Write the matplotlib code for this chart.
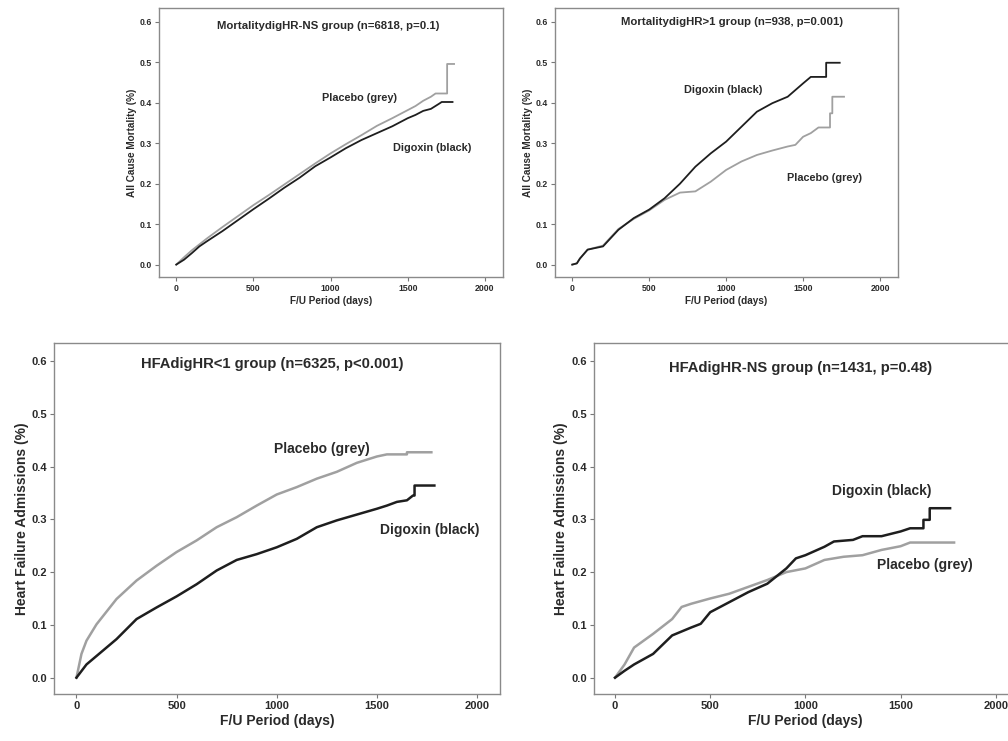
import numpy as np
import matplotlib
matplotlib.use("Agg")
import matplotlib.pyplot as plt

plt.rcParams["font.family"] = ["Liberation Sans", "DejaVu Sans"]
plt.rcParams["font.weight"] = "bold"
plt.rcParams["axes.labelweight"] = "bold"

# --- panel 1: mortality, HR-NS group ---
mort_ns_pla_t = [0, 50, 100, 150, 200, 300, 400, 500, 600, 700, 800, 900, 1000, 1100, 1200,
                 1300, 1400, 1500, 1550, 1600, 1650, 1680, 1755, 1755, 1800]
mort_ns_pla_y = [0, 0.018, 0.035, 0.05, 0.065, 0.093, 0.12, 0.147, 0.172, 0.198, 0.224, 0.25,
                 0.275, 0.298, 0.32, 0.343, 0.362, 0.382, 0.392, 0.405, 0.415, 0.423, 0.423,
                 0.496, 0.496]
mort_ns_dig_t = [0, 50, 100, 150, 200, 300, 400, 500, 600, 700, 800, 900, 1000, 1100, 1200,
                 1300, 1400, 1500, 1550, 1600, 1650, 1700, 1720, 1790]
mort_ns_dig_y = [0, 0.012, 0.028, 0.045, 0.058, 0.083, 0.11, 0.137, 0.163, 0.19, 0.215, 0.243,
                 0.265, 0.288, 0.308, 0.325, 0.342, 0.362, 0.37, 0.38, 0.385, 0.397, 0.402, 0.402]

# --- panel 2: mortality, HR>1 group ---
mort_hr1_dig_t = [0, 30, 50, 100, 200, 300, 400, 500, 600, 700, 800, 900, 1000, 1100, 1200,
                  1300, 1400, 1500, 1550, 1650, 1650, 1738]
mort_hr1_dig_y = [0, 0.003, 0.015, 0.037, 0.045, 0.086, 0.115, 0.136, 0.164, 0.2, 0.242, 0.275,
                  0.304, 0.341, 0.378, 0.399, 0.415, 0.448, 0.464, 0.464, 0.499, 0.499]
mort_hr1_pla_t = [0, 30, 50, 100, 200, 300, 400, 500, 600, 700, 800, 900, 1000, 1100, 1200,
                  1300, 1400, 1450, 1500, 1550, 1600, 1675, 1675, 1690, 1690, 1766]
mort_hr1_pla_y = [0, 0.003, 0.015, 0.037, 0.047, 0.088, 0.113, 0.134, 0.16, 0.178, 0.181, 0.205,
                  0.234, 0.255, 0.271, 0.282, 0.292, 0.296, 0.316, 0.325, 0.339, 0.339, 0.374,
                  0.374, 0.415, 0.415]

# --- panel 3: HF admissions, HR<1 group ---
hfa_hr1_pla_t = [0, 25, 50, 100, 200, 300, 400, 500, 600, 700, 800, 900, 1000, 1100, 1200,
                 1300, 1400, 1500, 1550, 1650, 1650, 1772]
hfa_hr1_pla_y = [0, 0.045, 0.07, 0.101, 0.149, 0.184, 0.212, 0.238, 0.26, 0.285, 0.304, 0.326,
                 0.347, 0.361, 0.377, 0.39, 0.407, 0.419, 0.423, 0.423, 0.427, 0.427]
hfa_hr1_dig_t = [0, 50, 100, 200, 300, 400, 500, 600, 700, 800, 900, 1000, 1100, 1200, 1300,
                 1400, 1500, 1550, 1600, 1650, 1680, 1688, 1688, 1787]
hfa_hr1_dig_y = [0, 0.025, 0.041, 0.073, 0.111, 0.133, 0.154, 0.177, 0.203, 0.223, 0.234, 0.247,
                 0.263, 0.285, 0.298, 0.309, 0.32, 0.326, 0.333, 0.336, 0.345, 0.345, 0.364, 0.364]

# --- panel 4: HF admissions, HR-NS group ---
hfa_ns_pla_t = [0, 50, 100, 200, 300, 350, 400, 500, 600, 700, 800, 900, 1000, 1100, 1200, 1300,
                1400, 1500, 1550, 1781]
hfa_ns_pla_y = [0, 0.025, 0.057, 0.083, 0.111, 0.134, 0.14, 0.15, 0.159, 0.172, 0.185, 0.2,
                0.207, 0.223, 0.229, 0.232, 0.242, 0.249, 0.256, 0.256]
hfa_ns_dig_t = [0, 50, 100, 200, 300, 400, 450, 500, 600, 700, 800, 900, 950, 1000, 1100, 1150,
                1250, 1300, 1400, 1500, 1550, 1620, 1620, 1653, 1653, 1760]
hfa_ns_dig_y = [0, 0.013, 0.025, 0.045, 0.08, 0.095, 0.102, 0.124, 0.143, 0.162, 0.178, 0.207,
                0.226, 0.232, 0.248, 0.258, 0.261, 0.268, 0.268, 0.277, 0.283, 0.283, 0.299,
                0.299, 0.321, 0.321]

x_ticks = [0, 500, 1000, 1500, 2000]
y_ticks = [0.0, 0.1, 0.2, 0.3, 0.4, 0.5, 0.6]

GREY = "#a0a0a0"
BLACK = "#1e1e1e"
TXT = "#2a2a2a"

panels = [
    dict(rect=[0.1577, 0.626, 0.341, 0.363], title="MortalitydigHR-NS group (n=6818, p=0.1)",
         title_xy=(987, 0.589), ylabel="All Cause Mortality (%)",
         pla=(mort_ns_pla_t, mort_ns_pla_y), dig=(mort_ns_dig_t, mort_ns_dig_y),
         pla_xy=(1186, 0.412), dig_xy=(1658, 0.289), big=False),
    dict(rect=[0.5506, 0.626, 0.340, 0.363], title="MortalitydigHR>1 group (n=938, p=0.001)",
         title_xy=(1036, 0.60), ylabel="All Cause Mortality (%)",
         pla=(mort_hr1_pla_t, mort_hr1_pla_y), dig=(mort_hr1_dig_t, mort_hr1_dig_y),
         pla_xy=(1639, 0.2145), dig_xy=(984, 0.431), big=False),
    dict(rect=[0.0536, 0.0634, 0.4425, 0.4737], title="HFAdigHR<1 group (n=6325, p<0.001)",
         title_xy=(980, 0.594), ylabel="Heart Failure Admissions (%)",
         pla=(hfa_hr1_pla_t, hfa_hr1_pla_y), dig=(hfa_hr1_dig_t, hfa_hr1_dig_y),
         pla_xy=(1226, 0.434), dig_xy=(1764, 0.279), big=True),
    dict(rect=[0.589, 0.0634, 0.4206, 0.4737], title="HFAdigHR-NS group (n=1431, p=0.48)",
         title_xy=(976, 0.587), ylabel="Heart Failure Admissions (%)",
         pla=(hfa_ns_pla_t, hfa_ns_pla_y), dig=(hfa_ns_dig_t, hfa_ns_dig_y),
         pla_xy=(1629, 0.214), dig_xy=(1402, 0.353), big=True),
]

fig = plt.figure(figsize=(10.08, 7.41), dpi=100)
for p in panels:
    ax = fig.add_axes(p["rect"])
    if p["big"]:
        fs_t, fs_c, fs_tick, fs_lab, lw = 10.6, 10, 8, 10, 1.8
    else:
        fs_t, fs_c, fs_tick, fs_lab, lw = 8.2, 7.8, 6.3, 7.2, 1.3
    ax.plot(p["pla"][0], p["pla"][1], color=GREY, lw=lw)
    ax.plot(p["dig"][0], p["dig"][1], color=BLACK, lw=lw)
    ax.set_xlim(-112, 2115)
    ax.set_ylim(-0.031, 0.634)
    ax.set_xticks(x_ticks)
    ax.set_yticks(y_ticks)
    ax.set_xticklabels([str(v) for v in x_ticks], fontweight="bold")
    ax.set_yticklabels([f"{v:.1f}" for v in y_ticks], fontweight="bold")
    ax.tick_params(length=3, width=0.8, color="#777777", labelsize=fs_tick, labelcolor=TXT,
                   pad=2)
    for sp in ax.spines.values():
        sp.set_color("#8a8a8a")
        sp.set_linewidth(1.0)
    ax.set_xlabel("F/U Period (days)", fontsize=fs_lab, color=TXT, labelpad=2)
    ax.set_ylabel(p["ylabel"], fontsize=fs_lab, color=TXT, labelpad=2)
    ax.text(*p["title_xy"], p["title"], ha="center", va="center", fontsize=fs_t, color=TXT)
    ax.text(*p["pla_xy"], "Placebo (grey)", ha="center", va="center", fontsize=fs_c, color=TXT)
    ax.text(*p["dig_xy"], "Digoxin (black)", ha="center", va="center", fontsize=fs_c, color=TXT)

fig.savefig("out.png", dpi=100)
